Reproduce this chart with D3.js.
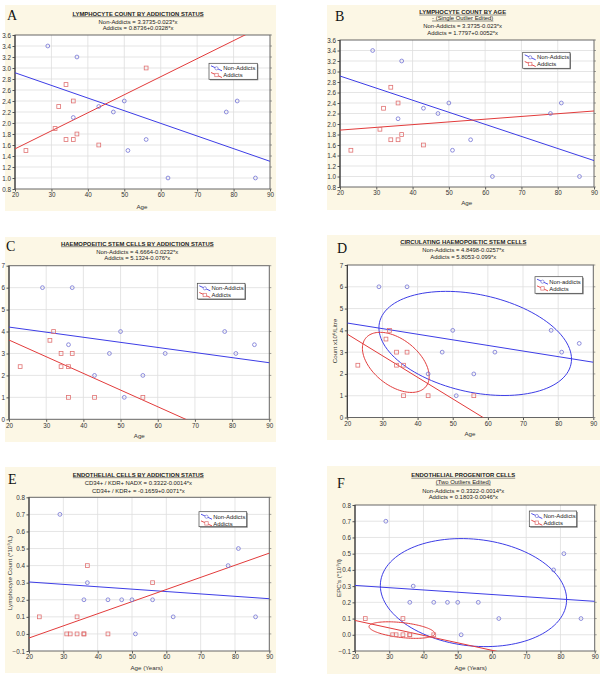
<!DOCTYPE html>
<html><head><meta charset="utf-8">
<script src="https://cdn.jsdelivr.net/npm/d3@7"></script>
<style>body{margin:0;background:#fff}svg{display:block}</style>
</head><body><svg id="c" width="600" height="678"></svg>
<script>
// ---------- DATA ----------
const ageNon = [29,37,36,43,47,50,51,56,62,78,81,86];
const ageAdd = [23,31,32,34,34,36,36,37,43,56];
const lymphNon = [3.4,3.2,2.1,2.3,2.2,2.4,1.5,1.7,1.0,2.2,2.4,1.0];
const lymphAdd = [1.5,1.9,2.3,2.7,1.7,2.4,1.7,1.8,1.6,3.0];
const hscNon = [6,6,3.4,2,3,4,1,2,3,4,3,3.4];
const hscAdd = [2.4,3.6,4,3,2.4,2.4,1,3,1,1];
const epcNon = [0.7,0.3,0.2,0.2,0.2,0.2,0,0.2,0.1,0.4,0.5,0.1];
const epcAdd = [0.1,0,0,0.1,0,0,0,0.4,0,0.3];
// indices of points removed in the edited panels
const dropB_add = [9];
const dropD_non = [2];
const dropF_add = [7,9];
// regression coefficients [intercept, slope] : [non-addicts, addicts]
const coefA = [[3.3735,-0.023],[0.8736,0.0328]];
const coefB = [[3.3735,-0.023],[1.7797,0.0052]];
const coefC = [[4.6664,-0.0232],[5.1324,-0.076]];
const coefD = [[4.8498,-0.0257],[5.8053,-0.099]];
const coefE = [[0.3322,-0.0014],[-0.1659,0.0071]];
const coefF = [[0.3322,-0.0014],[0.1803,-0.0046]];
// ellipses [centreAge, centreValue, halfWidthAge, halfHeightValue, correlation]
const ellD = [[56.4,3.4,27.4,2.39,-0.3],[33.8,2.53,9.5,1.38,-0.47]];
const ellF = [[54.6,0.26,27.2,0.333,-0.13],[33.7,0.029,9.6,0.051,-0.42]];
// equation texts
const eqA = ["Non-Addicts = 3.3735-0.023*x","Addicts = 0.8736+0.0328*x"];
const eqB = ["Non-Addicts = 3.3735-0.023*x","Addicts = 1.7797+0.0052*x"];
const eqC = ["Non-Addicts = 4.6664-0.0232*x","Addicts = 5.1324-0.076*x"];
const eqD = ["Non-Addicts = 4.8498-0.0257*x","Addicts = 5.8053-0.099*x"];
const eqE = ["CD34+ / KDR+ NADX = 0.3322-0.0014*x","CD34+ / KDR+ = -0.1659+0.0071*x"];
const eqF = ["Non-Addicts = 0.3322-0.0014*x","Addicts = 0.1803-0.0046*x"];
// tick values
const xTicks = [20,30,40,50,60,70,80,90];
const yTicksLymph = [0.8,1.0,1.2,1.4,1.6,1.8,2.0,2.2,2.4,2.6,2.8,3.0,3.2,3.4,3.6];
const yTicksHsc = [0,1,2,3,4,5,6,7];
const yTicksEpc = [-0.1,0.0,0.1,0.2,0.3,0.4,0.5,0.6,0.7,0.8];
const legendStd = ["Non-Addicts","Addicts"];
const legendD = ["Non-addicts","Addicts"];

// ---------- DRAWING ----------
const FONT = "'Liberation Sans', Arial, sans-serif";
const BLUE_LINE = "#3d3de6", RED_LINE = "#e23b3b";
const BLUE_PT = "#7272d4", RED_PT = "#e07272";
const svg = d3.select("#c");
const pts = (ages, vals, drop) => ages.map((a,i)=>({x:a,y:vals[i],i})).filter(d=>!(drop||[]).includes(d.i));
let clipId = 0;

function panel(c){
  const g = svg.append("g");
  g.append("rect").attr("x",c.bg[0]).attr("y",c.bg[1]).attr("width",c.bg[2]-c.bg[0]).attr("height",c.bg[3]-c.bg[1]).attr("fill","#fcf7e5");
  const [L,T,R,B] = c.plot;
  const x = d3.scaleLinear().domain([20,90]).range([L,R]);
  const y = d3.scaleLinear().domain([c.yTicks[0], c.yTicks[c.yTicks.length-1]]).range([B,T]);
  g.append("rect").attr("x",L).attr("y",T).attr("width",R-L).attr("height",B-T).attr("fill","#fff");
  // grid
  g.append("g").selectAll("line").data(xTicks.slice(1,-1)).join("line")
    .attr("x1",d=>x(d)).attr("x2",d=>x(d)).attr("y1",T).attr("y2",B).attr("stroke","#dedede").attr("stroke-width",0.8);
  g.append("g").selectAll("line").data(c.yTicks.slice(1,-1)).join("line")
    .attr("y1",d=>y(d)).attr("y2",d=>y(d)).attr("x1",L).attr("x2",R).attr("stroke","#dedede").attr("stroke-width",0.8);
  // axes
  const ax = g.append("g").attr("transform",`translate(0,${B})`)
    .call(d3.axisBottom(x).tickValues(xTicks).tickFormat(d3.format("d")).tickSize(2.5).tickPadding(1.5));
  const ay = g.append("g").attr("transform",`translate(${L},0)`)
    .call(d3.axisLeft(y).tickValues(c.yTicks).tickFormat(d3.format(c.fmt)).tickSize(2.5).tickPadding(1.5));
  [ax,ay].forEach(a=>{
    a.select(".domain").remove();
    a.selectAll("line").attr("stroke","#555");
    a.selectAll("text").attr("font-family",FONT).attr("font-size",6.3).attr("fill","#333");
  });
  // right-side ticks
  g.append("g").selectAll("line").data(c.yTicks).join("line")
    .attr("x1",R).attr("x2",R+2).attr("y1",d=>y(d)).attr("y2",d=>y(d)).attr("stroke","#777").attr("stroke-width",0.7);
  // frame
  g.append("rect").attr("x",L).attr("y",T).attr("width",R-L).attr("height",B-T).attr("fill","none").attr("stroke","#666").attr("stroke-width",1);
  g.append("line").attr("x1",L).attr("x2",L).attr("y1",T).attr("y2",B).attr("stroke","#333").attr("stroke-width",1);
  // clip
  const id = "cl"+(clipId++);
  svg.append("clipPath").attr("id",id).append("rect").attr("x",L).attr("y",T).attr("width",R-L).attr("height",B-T);
  // ellipses
  if (c.ell){
    const eline = d3.line().x(d=>x(d[0])).y(d=>y(d[1])).curve(d3.curveLinearClosed);
    c.ell.forEach((e,k)=>{
      const [cx,cy,a,b,r] = e;
      const pts2 = d3.range(0,120).map(j=>{const t=j/120*2*Math.PI;return [cx+a*Math.cos(t), cy+b*(r*Math.cos(t)+Math.sqrt(1-r*r)*Math.sin(t))];});
      g.append("path").attr("d",eline(pts2)).attr("fill","none").attr("stroke",k===0?BLUE_LINE:RED_LINE).attr("stroke-width",1);
    });
  }
  // regression lines
  const lg = g.append("g").attr("clip-path",`url(#${id})`);
  c.coef.forEach((cf,k)=>{
    lg.append("line").attr("x1",x(20)).attr("x2",x(90)).attr("y1",y(cf[0]+cf[1]*20)).attr("y2",y(cf[0]+cf[1]*90))
      .attr("stroke",k===0?BLUE_LINE:RED_LINE).attr("stroke-width",1);
  });
  // points
  g.append("g").selectAll("circle").data(c.non).join("circle")
    .attr("cx",d=>x(d.x)).attr("cy",d=>y(d.y)).attr("r",1.9).attr("fill","none").attr("stroke",BLUE_PT).attr("stroke-width",0.8);
  g.append("g").selectAll("rect").data(c.add).join("rect")
    .attr("x",d=>x(d.x)-1.9).attr("y",d=>y(d.y)-1.9).attr("width",3.8).attr("height",3.8).attr("fill","none").attr("stroke",RED_PT).attr("stroke-width",0.8);
  // letter
  g.append("text").attr("x",c.lp[0]).attr("y",c.lp[1]).text(c.letter).attr("font-family","'Liberation Serif','Times New Roman',serif").attr("font-size",14).attr("fill","#111");
  // header
  c.head.forEach(h=>{
    const t = g.append("text").attr("x",c.cx).attr("y",h[1]).attr("text-anchor","middle").text(h[0])
      .attr("font-family",FONT).attr("font-size",5.9).attr("font-weight",h[2]?"bold":"normal").attr("fill","#222");
    if (h[3]){
      const w = t.node().getComputedTextLength();
      g.append("line").attr("x1",c.cx-w/2).attr("x2",c.cx+w/2).attr("y1",h[1]+1.2).attr("y2",h[1]+1.2).attr("stroke","#222").attr("stroke-width",0.5);
    }
  });
  // axis titles
  g.append("text").attr("x",c.xl[0]).attr("y",c.xl[1]).attr("text-anchor","middle").text(c.xl[2])
    .attr("font-family",FONT).attr("font-size",6.2).attr("fill","#333");
  if (c.yl){
    g.append("text").attr("transform",`translate(${c.yl[0]},${c.yl[1]}) rotate(-90)`).attr("text-anchor","middle").text(c.yl[2])
      .attr("font-family",FONT).attr("font-size",6.2).attr("fill","#333");
  }
  // legend
  const [lx0,ly0,lx1,ly1] = c.leg;
  g.append("rect").attr("x",lx0+1).attr("y",ly0+1).attr("width",lx1-lx0).attr("height",ly1-ly0).attr("fill","#888");
  g.append("rect").attr("x",lx0).attr("y",ly0).attr("width",lx1-lx0).attr("height",ly1-ly0).attr("fill","#fff").attr("stroke","#444").attr("stroke-width",0.7);
  c.legLabels.forEach((lab,k)=>{
    const cy = ly0 + 5 + k*6.7;
    g.append("line").attr("x1",lx0+2).attr("x2",lx0+13).attr("y1",cy-2.5).attr("y2",cy+2.5).attr("stroke",k===0?BLUE_LINE:RED_LINE).attr("stroke-width",0.9);
    if (k===0) g.append("circle").attr("cx",lx0+7.5).attr("cy",cy).attr("r",1.6).attr("fill","#fff").attr("stroke",BLUE_PT).attr("stroke-width",0.7);
    else g.append("rect").attr("x",lx0+5.8).attr("y",cy-1.7).attr("width",3.4).attr("height",3.4).attr("fill","#fff").attr("stroke",RED_PT).attr("stroke-width",0.7);
    g.append("text").attr("x",lx0+14.3).attr("y",cy+2.1).text(lab).attr("font-family",FONT).attr("font-size",5.9).attr("fill","#222");
  });
}

const panels = [
 {letter:"A", bg:[5,5,276,211], plot:[15,35,270,189], lp:[7,19.5], cx:138,
  head:[["LYMPHOCYTE COUNT BY ADDICTION STATUS",15.5,true,true],[eqA[0],23.7],[eqA[1],30.3]],
  yTicks:yTicksLymph, fmt:".1f", coef:coefA,
  non:pts(ageNon,lymphNon), add:pts(ageAdd,lymphAdd),
  xl:[142,208.5,"Age"], leg:[209,63.3,257.3,79.3], legLabels:legendStd},
 {letter:"B", bg:[327,5,600,210], plot:[340,40,594,187], lp:[335,21], cx:462.7,
  head:[["LYMPHOCYTE COUNT BY AGE",13.8,true,true],["- (Single Outlier Edited)",19.8,false,true],[eqB[0],28],[eqB[1],35]],
  yTicks:yTicksLymph, fmt:".1f", coef:coefB,
  non:pts(ageNon,lymphNon), add:pts(ageAdd,lymphAdd,dropB_add),
  xl:[466.7,204.5,"Age"], leg:[522.7,52.3,570,68.3], legLabels:legendStd},
 {letter:"C", bg:[5,237,276,442], plot:[9,265.7,269.3,419.3], lp:[6,250.5], cx:137.3,
  head:[["HAEMOPOEITIC STEM CELLS BY ADDICTION STATUS",245.5,true,true],[eqC[0],253.8],[eqC[1],260.4]],
  yTicks:yTicksHsc, fmt:"d", coef:coefC,
  non:pts(ageNon,hscNon), add:pts(ageAdd,hscAdd),
  xl:[139.3,437.8,"Age"], leg:[197.3,283.3,245,299], legLabels:legendStd},
 {letter:"D", bg:[327,235,600,440], plot:[347.3,265,593.3,417.5], lp:[337,252.5], cx:463.3,
  head:[["CIRCULATING HAEMOPOIETIC STEM CELLS",243.8,true,true],[eqD[0],252],[eqD[1],259.4]],
  yTicks:yTicksHsc, fmt:"d", coef:coefD, ell:ellD,
  non:pts(ageNon,hscNon,dropD_non), add:pts(ageAdd,hscAdd),
  xl:[470,436,"Age"], yl:[337,341,"Count x10\u2076/Litre"], leg:[535,276.7,582.7,293.3], legLabels:legendD},
 {letter:"E", bg:[5,467,276,673], plot:[29,497.3,269.3,651], lp:[8,483.5], cx:138.3,
  head:[["ENDOTHELIAL CELLS BY  ADDICTION STATUS",476.5,true,true],[eqE[0],485.4],[eqE[1],492.8]],
  yTicks:yTicksEpc, fmt:".1f", coef:coefE,
  non:pts(ageNon,epcNon), add:pts(ageAdd,epcAdd),
  xl:[146.7,670.3,"Age (Years)"], yl:[12,573,"Lymphocyte Count (*10\u2079/L)"], leg:[199,511.7,246.7,526.7], legLabels:legendStd},
 {letter:"F", bg:[327,466,600,674], plot:[355,505,594.7,651], lp:[337,487.5], cx:463.3,
  head:[["ENDOTHELIAL PROGENITOR CELLS",477,true,true],["(Two Outliers Edited)",483.8,false,true],[eqF[0],492.8],[eqF[1],499.4]],
  yTicks:yTicksEpc, fmt:".1f", coef:coefF, ell:ellF,
  non:pts(ageNon,epcNon), add:pts(ageAdd,epcAdd,dropF_add),
  xl:[470.7,670.3,"Age (Years)"], yl:[341,578,"EPC's (*10\u2079/l)"], leg:[529.3,511,576.7,526.7], legLabels:legendStd}
];
panels.forEach(panel);
</script></body></html>
